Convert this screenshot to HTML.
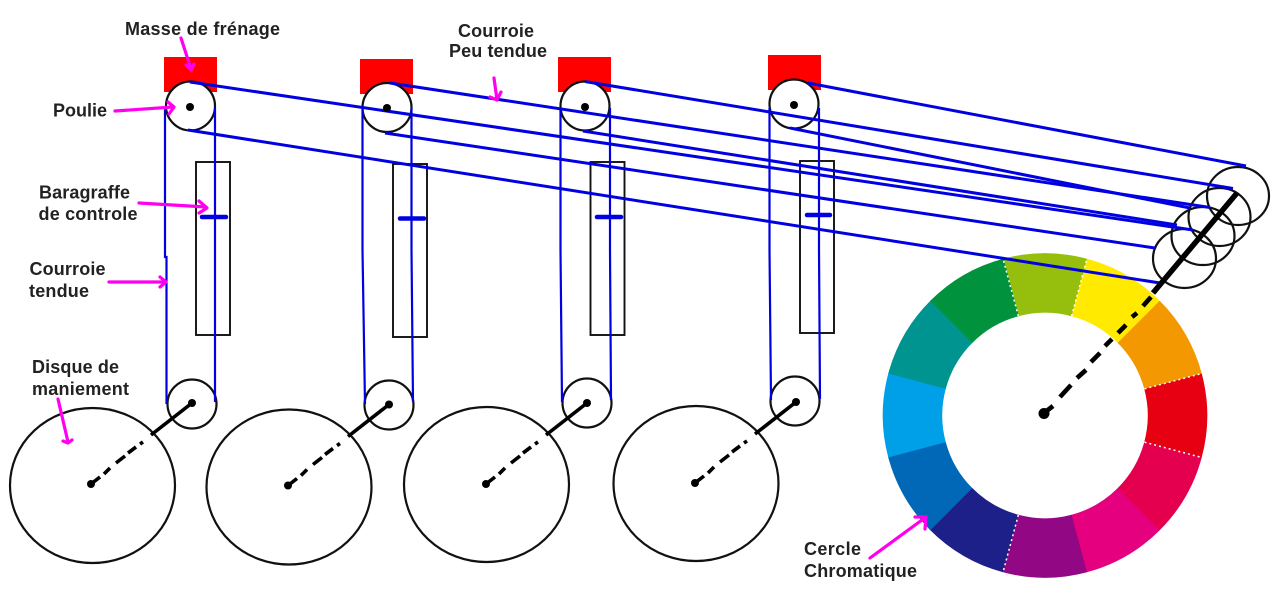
<!DOCTYPE html>
<html lang="fr"><head><meta charset="utf-8"><title>Courroies et cercle chromatique</title>
<style>html,body{margin:0;padding:0;background:#fff;width:1280px;height:614px;overflow:hidden}svg{display:block}
text{font-family:"Liberation Sans",Arial,sans-serif;font-weight:bold;font-size:18px;fill:#222}</style></head><body>
<svg width="1280" height="614" viewBox="0 0 1280 614" xmlns="http://www.w3.org/2000/svg">
<rect width="1280" height="614" fill="#fff"/>
<!-- colour wheel -->
<g fill="none" stroke-width="59.5">
<circle r="132.5" pathLength="12" stroke-dasharray="1.01 10.99" stroke="#95bf0c" transform="translate(1045,415.5) rotate(-105)"/>
<circle r="132.5" pathLength="12" stroke-dasharray="1.01 10.99" stroke="#ffea00" transform="translate(1045,415.5) rotate(-75)"/>
<circle r="132.5" pathLength="12" stroke-dasharray="1.01 10.99" stroke="#f39800" transform="translate(1045,415.5) rotate(-45)"/>
<circle r="132.5" pathLength="12" stroke-dasharray="1.01 10.99" stroke="#e60012" transform="translate(1045,415.5) rotate(-15)"/>
<circle r="132.5" pathLength="12" stroke-dasharray="1.01 10.99" stroke="#e5004f" transform="translate(1045,415.5) rotate(15)"/>
<circle r="132.5" pathLength="12" stroke-dasharray="1.01 10.99" stroke="#e4007f" transform="translate(1045,415.5) rotate(45)"/>
<circle r="132.5" pathLength="12" stroke-dasharray="1.01 10.99" stroke="#920783" transform="translate(1045,415.5) rotate(75)"/>
<circle r="132.5" pathLength="12" stroke-dasharray="1.01 10.99" stroke="#1d2088" transform="translate(1045,415.5) rotate(105)"/>
<circle r="132.5" pathLength="12" stroke-dasharray="1.01 10.99" stroke="#0068b7" transform="translate(1045,415.5) rotate(135)"/>
<circle r="132.5" pathLength="12" stroke-dasharray="1.01 10.99" stroke="#00a0e9" transform="translate(1045,415.5) rotate(165)"/>
<circle r="132.5" pathLength="12" stroke-dasharray="1.01 10.99" stroke="#009490" transform="translate(1045,415.5) rotate(195)"/>
<circle r="132.5" pathLength="12" stroke-dasharray="1.01 10.99" stroke="#00923c" transform="translate(1045,415.5) rotate(225)"/>
</g>
<g stroke="#fff" stroke-width="1.5" stroke-dasharray="2 3">
<line x1="0" y1="-103" x2="0" y2="-162" transform="translate(1045,415.5) rotate(-15)"/>
<line x1="0" y1="-103" x2="0" y2="-162" transform="translate(1045,415.5) rotate(15)"/>
<line x1="0" y1="-103" x2="0" y2="-162" transform="translate(1045,415.5) rotate(75)"/>
<line x1="0" y1="-103" x2="0" y2="-162" transform="translate(1045,415.5) rotate(105)"/>
<line x1="0" y1="-103" x2="0" y2="-162" transform="translate(1045,415.5) rotate(195)"/>
</g>
<!-- red brake masses -->
<g fill="#ff0000">
<rect x="164" y="57" width="53" height="35"/>
<rect x="360" y="59" width="53" height="35"/>
<rect x="558" y="57" width="53" height="35"/>
<rect x="768" y="55" width="53" height="35"/>
</g>
<!-- gauge rectangles -->
<g fill="none" stroke="#111" stroke-width="1.9">
<rect x="196" y="162" width="34" height="173"/>
<rect x="393" y="164" width="34" height="173"/>
<rect x="590.5" y="162" width="34" height="173"/>
<rect x="800" y="161" width="34" height="172"/>
</g>
<!-- top pulleys -->
<g fill="#fff" stroke="#111" stroke-width="2.2">
<circle cx="190.5" cy="106" r="24.5"/>
<circle cx="387" cy="107.5" r="24.5"/>
<circle cx="585" cy="106" r="24.5"/>
<circle cx="794" cy="104" r="24.5"/>
</g>
<!-- discs and lower pulleys -->
<g fill="none" stroke="#111" stroke-width="2.2">
<ellipse cx="92.5" cy="485.5" rx="82.5" ry="77.5"/>
<ellipse cx="289" cy="487" rx="82.5" ry="77.5"/>
<ellipse cx="486.5" cy="484.5" rx="82.5" ry="77.5"/>
<ellipse cx="696" cy="483.5" rx="82.5" ry="77.5"/>
<circle cx="192" cy="404" r="24.5"/>
<circle cx="389" cy="405" r="24.5"/>
<circle cx="587" cy="403" r="24.5"/>
<circle cx="795" cy="401" r="24.5"/>
<ellipse cx="1238" cy="196" rx="31" ry="29"/>
<ellipse cx="1219.5" cy="217" rx="31" ry="29"/>
<ellipse cx="1203" cy="236" rx="31.5" ry="29"/>
<ellipse cx="1184.5" cy="258.5" rx="31.5" ry="29.5"/>
</g>
<!-- vertical belts -->
<g stroke="#0000e0" stroke-width="2.2" fill="none">
<polyline points="165,108 165,257 166.5,257 166.5,404"/>
<line x1="215" y1="108" x2="215" y2="402"/>
<polyline points="362.5,108 362.5,250 365,404"/>
<polyline points="411.5,108 411.5,250 413,402"/>
<polyline points="560.5,108 560.5,250 562,402"/>
<polyline points="610,108 610,250 611,400"/>
<polyline points="769.5,108 769.5,250 771,400"/>
<polyline points="819,108 819,250 820,399"/>
</g>
<!-- long belts -->
<g stroke="#0000e0" stroke-width="3" fill="none">
<line x1="808" y1="83" x2="1246" y2="166"/>
<line x1="585" y1="81.5" x2="1233" y2="188.5"/>
<line x1="390" y1="83" x2="1210" y2="207.5"/>
<line x1="790" y1="128" x2="1190" y2="208"/>
<line x1="190" y1="82" x2="1193" y2="230"/>
<line x1="583" y1="131" x2="1177" y2="225"/>
<line x1="385" y1="133" x2="1155" y2="248"/>
<line x1="188" y1="130" x2="1160" y2="283"/>
</g>
<!-- gauge ticks -->
<g stroke="#0000e0" stroke-width="4.5" stroke-linecap="round">
<line x1="202" y1="217" x2="226" y2="217"/>
<line x1="400" y1="218.5" x2="424" y2="218.5"/>
<line x1="597" y1="217" x2="621" y2="217"/>
<line x1="807" y1="215" x2="830" y2="215"/>
</g>
<!-- axle dots top -->
<g fill="#000">
<circle cx="190" cy="107" r="4"/>
<circle cx="387" cy="108" r="4"/>
<circle cx="585" cy="107" r="4"/>
<circle cx="794" cy="105" r="4"/>
</g>
<!-- linkage disc to pulley -->
<defs>
<g id="link">
<circle cx="0" cy="0" r="4" fill="#000"/>
<circle cx="101" cy="-81" r="4" fill="#000"/>
<g stroke="#000" stroke-width="3.6" fill="none">
<line x1="0" y1="0" x2="9" y2="-7"/>
<line x1="13" y1="-10" x2="19" y2="-16"/>
<line x1="25" y1="-21" x2="34" y2="-28"/>
<line x1="37" y1="-31" x2="45" y2="-37"/>
<line x1="49" y1="-40" x2="52" y2="-42"/>
<line x1="60" y1="-49" x2="101" y2="-81"/>
</g>
</g>
</defs>
<use href="#link" x="91" y="484"/>
<use href="#link" x="288" y="485.5"/>
<use href="#link" x="486" y="484"/>
<use href="#link" x="695" y="483"/>
<!-- large linkage -->
<circle cx="1044" cy="413.5" r="5.5" fill="#000"/>
<g stroke="#000" stroke-width="4.6" fill="none">
<line x1="1044" y1="413" x2="1053" y2="406"/>
<line x1="1060" y1="397" x2="1071" y2="385"/>
<line x1="1077" y1="378" x2="1086" y2="370"/>
<line x1="1091" y1="362" x2="1100" y2="353"/>
<line x1="1105" y1="346" x2="1112" y2="339"/>
<line x1="1118" y1="333" x2="1126" y2="325"/>
<line x1="1132" y1="317" x2="1137" y2="313"/>
<line x1="1143" y1="306" x2="1151" y2="297"/>
<line x1="1153" y1="293" x2="1237" y2="193" stroke-width="5.5"/>
</g>
<!-- magenta arrows -->
<g stroke="#ff00ee" stroke-width="3.2" fill="none" stroke-linecap="round" stroke-linejoin="round">
<polyline points="181,38 191,69"/><polyline points="186,65 191,70 194,64"/>
<polyline points="115,111 173,107"/><polyline points="168,102 174,107 169,114"/>
<polyline points="139,203 206,207"/><polyline points="199,201 207,208 199,213"/>
<polyline points="109,282 166,282"/><polyline points="160,277 166,282 160,287"/>
<polyline points="58,399 68,442"/><polyline points="63,441 68,443 72,440"/>
<polyline points="494,78 497,100"/><polyline points="490,97 497,100 501,92"/>
<polyline points="870,558 926,517"/><polyline points="915,517 926,517 925,529"/>
</g>
<!-- labels -->
<text x="125" y="35" textLength="155" lengthAdjust="spacing">Masse de frénage</text>
<text x="53" y="116.5" textLength="54" lengthAdjust="spacing">Poulie</text>
<text x="39" y="198.5" textLength="91" lengthAdjust="spacing">Baragraffe</text>
<text x="38.5" y="220" textLength="99" lengthAdjust="spacing">de controle</text>
<text x="29.5" y="275" textLength="76" lengthAdjust="spacing">Courroie</text>
<text x="29" y="297" textLength="60" lengthAdjust="spacing">tendue</text>
<text x="32" y="373" textLength="87" lengthAdjust="spacing">Disque de</text>
<text x="32" y="395" textLength="97" lengthAdjust="spacing">maniement</text>
<text x="458" y="37" textLength="76" lengthAdjust="spacing">Courroie</text>
<text x="449" y="57" textLength="98" lengthAdjust="spacing">Peu tendue</text>
<text x="804" y="555" textLength="57" lengthAdjust="spacing">Cercle</text>
<text x="804" y="577" textLength="113" lengthAdjust="spacing">Chromatique</text>
</svg>
</body></html>
